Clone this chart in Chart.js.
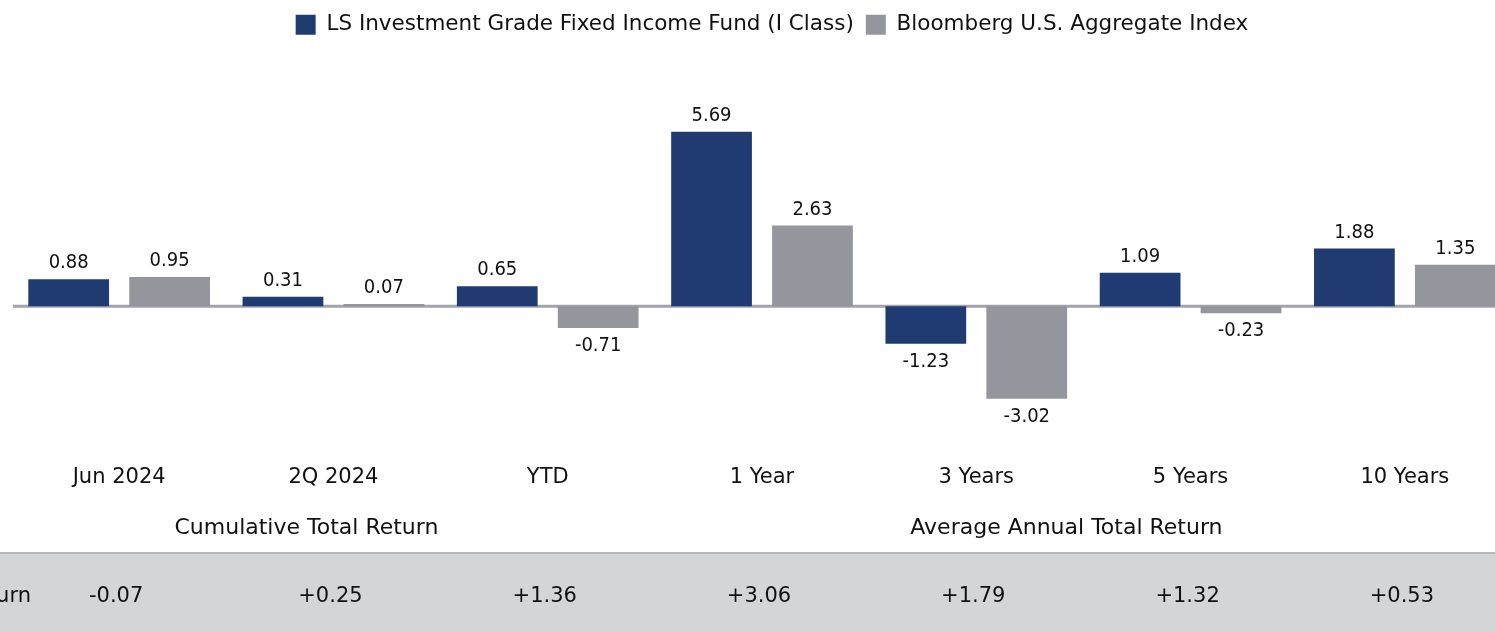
<!DOCTYPE html>
<html lang="en">
<head>
    <meta charset="UTF-8">
    <title>Fund vs Index Returns</title>
    <script src="https://cdn.jsdelivr.net/npm/chart.js"></script>
    <style>
        body {
            margin: 0;
            padding: 0;
            background: #fff;
            overflow: hidden;
        }
        .chart-box {
            position: relative;
            width: 1565px;
            height: 631px;
        }
    </style>
</head>
<body>
    <div class="chart-box">
        <canvas id="returnsChart"></canvas>
    </div>

    <script>
        // data
        const periods = ['Jun 2024', '2Q 2024', 'YTD', '1 Year', '3 Years', '5 Years', '10 Years'];
        const fundReturns = [0.88, 0.31, 0.65, 5.69, -1.23, 1.09, 1.88];
        const indexReturns = [0.95, 0.07, -0.71, 2.63, -3.02, -0.23, 1.35];
        const excessReturns = ['-0.07', '+0.25', '+1.36', '+3.06', '+1.79', '+1.32', '+0.53'];
        const groupLabels = ['Cumulative Total Return', 'Average Annual Total Return'];
        const rowLabel = 'Excess Return';

        const FONT = "'DejaVu Sans', sans-serif";
        const FONT_NUM = "'DejaVu Sans Condensed', 'DejaVu Sans', sans-serif";
        const NAVY = '#1f3b72';
        const GREY = '#95959e';

        // zero line, drawn under the bars
        const zeroLine = {
            id: 'zeroLine',
            beforeDatasetsDraw(chart) {
                const ctx = chart.ctx;
                const y = chart.scales.y.getPixelForValue(0);
                ctx.save();
                ctx.strokeStyle = '#a3a3ab';
                ctx.lineWidth = 3;
                ctx.beginPath();
                ctx.moveTo(13, y);
                ctx.lineTo(chart.width, y);
                ctx.stroke();
                ctx.restore();
            }
        };

        // value labels, group captions and excess return band
        const extras = {
            id: 'extras',
            afterDatasetsDraw(chart) {
                const ctx = chart.ctx;
                const xs = chart.scales.x;
                ctx.save();
                ctx.font = '20px ' + FONT_NUM;
                ctx.fillStyle = '#111';
                ctx.textAlign = 'center';
                chart.data.datasets.forEach((ds, i) => {
                    chart.getDatasetMeta(i).data.forEach((bar, j) => {
                        const v = ds.data[j];
                        if (v >= 0) {
                            ctx.textBaseline = 'bottom';
                            ctx.fillText(v.toFixed(2), bar.x, bar.y - 6);
                        } else {
                            ctx.textBaseline = 'top';
                            ctx.fillText(v.toFixed(2), bar.x, bar.y + 8);
                        }
                    });
                });

                // group captions
                ctx.font = '22px ' + FONT;
                ctx.textBaseline = 'middle';
                const c1 = (xs.getPixelForValue(0) + xs.getPixelForValue(2)) / 2 - 27;
                const c2 = (xs.getPixelForValue(3) + xs.getPixelForValue(6)) / 2 - 17;
                ctx.fillText(groupLabels[0], c1, 528);
                ctx.fillText(groupLabels[1], c2, 528);

                // band
                ctx.fillStyle = '#d4d5d9';
                ctx.fillRect(0, 553, chart.width, chart.height - 553);
                ctx.fillStyle = '#b6b6bb';
                ctx.fillRect(0, 552, chart.width, 2);

                ctx.fillStyle = '#111';
                ctx.font = '21px ' + FONT;
                ctx.textAlign = 'right';
                ctx.fillText(rowLabel, 31, 597);
                ctx.textAlign = 'center';
                excessReturns.forEach((t, j) => {
                    ctx.fillText(t, xs.getPixelForValue(j) - 3, 597);
                });
                ctx.restore();
            }
        };

        const ctx = document.getElementById('returnsChart').getContext('2d');
        new Chart(ctx, {
            type: 'bar',
            data: {
                labels: periods,
                datasets: [
                    {
                        label: 'LS Investment Grade Fixed Income Fund (I Class)',
                        data: fundReturns,
                        backgroundColor: NAVY
                    },
                    {
                        label: 'Bloomberg U.S. Aggregate Index',
                        data: indexReturns,
                        backgroundColor: GREY
                    }
                ]
            },
            options: {
                responsive: true,
                maintainAspectRatio: false,
                animation: false,
                categoryPercentage: 0.942,
                barPercentage: 0.8,
                layout: {
                    padding: { left: 12, right: 33, top: 2, bottom: 105 }
                },
                plugins: {
                    legend: {
                        position: 'top',
                        labels: {
                            boxWidth: 20,
                            boxHeight: 20,
                            padding: 12,
                            color: '#111',
                            font: { family: FONT, size: 21.5 }
                        }
                    },
                    tooltip: { enabled: false }
                },
                scales: {
                    x: {
                        grid: { display: false, drawTicks: false },
                        border: { display: false },
                        ticks: {
                            color: '#111',
                            padding: 36,
                            font: { family: FONT, size: 21 }
                        }
                    },
                    y: {
                        position: 'right',
                        min: -4,
                        max: 8.5,
                        grid: { display: false },
                        border: { display: false },
                        ticks: { display: false },
                        // blank strip so the legend sits a little right of the plot centre
                        afterFit(scale) { scale.width = 20; }
                    }
                }
            },
            plugins: [zeroLine, extras]
        });
    </script>
</body>
</html>
